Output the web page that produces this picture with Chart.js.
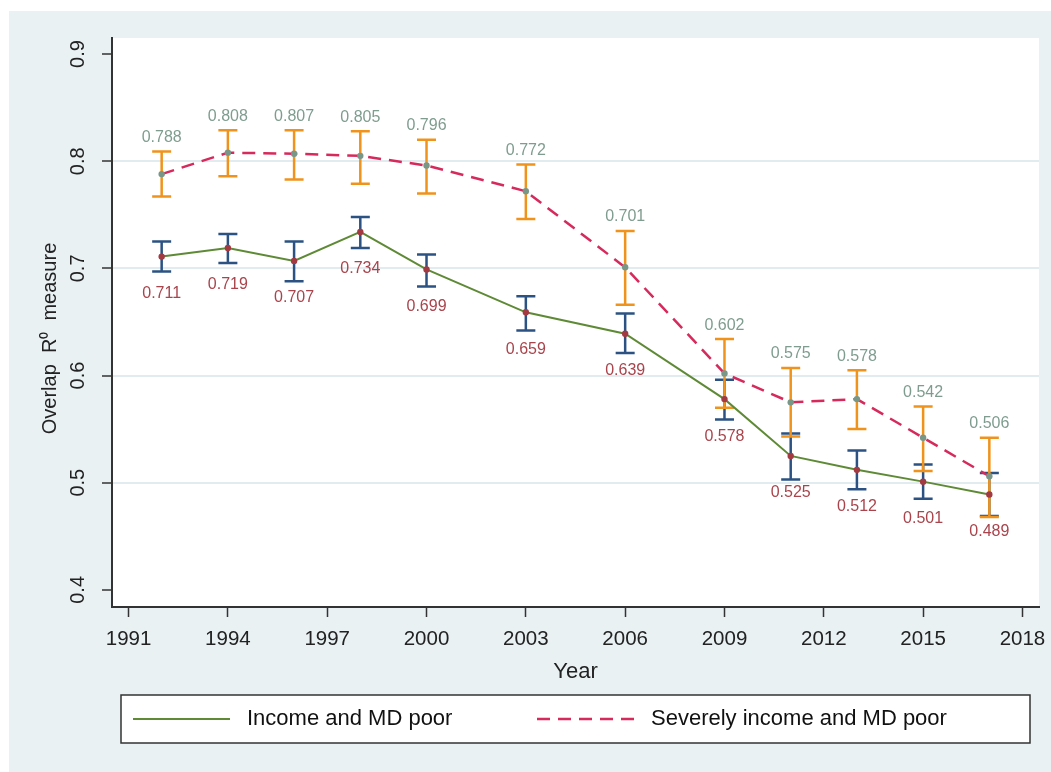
<!DOCTYPE html>
<html>
<head>
<meta charset="utf-8">
<script src="https://cdn.jsdelivr.net/npm/chart.js@4.4.1/dist/chart.umd.min.js"></script>
<style>
  html, body { margin: 0; padding: 0; background: #ffffff; }
  #panel { position: absolute; left: 9px; top: 11px; width: 1042px; height: 761px; background: #e9f1f3; }
  canvas { display: block; }
</style>
</head>
<body>
<div id="panel"><canvas id="overlapChart" width="1042" height="761"></canvas></div>
<script>
// Survey years
const years = [1992, 1994, 1996, 1998, 2000, 2003, 2006, 2009, 2011, 2013, 2015, 2017];

// Income and MD poor: point estimate with 95% confidence bounds
const incomeMD   = [0.711, 0.719, 0.707, 0.734, 0.699, 0.659, 0.639, 0.578, 0.525, 0.512, 0.501, 0.489];
const incomeLow  = [0.697, 0.705, 0.688, 0.719, 0.683, 0.642, 0.621, 0.559, 0.503, 0.494, 0.485, 0.469];
const incomeHigh = [0.725, 0.732, 0.725, 0.748, 0.713, 0.674, 0.658, 0.596, 0.546, 0.530, 0.517, 0.509];

// Severely income and MD poor: point estimate with 95% confidence bounds
const severeMD   = [0.788, 0.808, 0.807, 0.805, 0.796, 0.772, 0.701, 0.602, 0.575, 0.578, 0.542, 0.506];
const severeLow  = [0.767, 0.786, 0.783, 0.779, 0.770, 0.746, 0.666, 0.570, 0.543, 0.550, 0.511, 0.468];
const severeHigh = [0.809, 0.829, 0.829, 0.828, 0.820, 0.797, 0.735, 0.634, 0.607, 0.605, 0.571, 0.542];

// Axis ticks
const xTicks = [1991, 1994, 1997, 2000, 2003, 2006, 2009, 2012, 2015, 2018];
const yTicks = [0.4, 0.5, 0.6, 0.7, 0.8, 0.9];
const yTickLabels = ['0.4', '0.5', '0.6', '0.7', '0.8', '0.9'];

const FONT = '"Liberation Sans", Arial, Helvetica, sans-serif';
const COLORS = {
  incomeLine: '#5e8a36', incomeDot: '#a33a41', incomeLabel: '#a9444c', incomeCI: '#2b5283',
  severeLine: '#d62a5c', severeDot: '#799789', severeLabel: '#7f9d8f', severeCI: '#f0931c',
  axis: '#333333', text: '#222222', grid: '#e2ebef'
};

const toPoints = (vals) => years.map((yr, i) => ({ x: yr, y: vals[i] }));

// Plot background, confidence-interval caps, value labels, rotated y labels and framed legend
const decor = {
  id: 'decor',
  beforeDraw(chart) {
    const { ctx, chartArea: a } = chart;
    ctx.save();
    ctx.fillStyle = '#ffffff';
    ctx.fillRect(a.left, a.top, a.right - a.left, a.bottom - a.top);
    ctx.restore();
  },
  beforeDatasetsDraw(chart) {
    const { ctx } = chart;
    const x = chart.scales.x, y = chart.scales.y;
    const caps = (lo, hi, color) => {
      ctx.save();
      ctx.strokeStyle = color;
      ctx.lineWidth = 2.5;
      years.forEach((yr, i) => {
        const px = x.getPixelForValue(yr);
        const p1 = y.getPixelForValue(lo[i]);
        const p2 = y.getPixelForValue(hi[i]);
        ctx.beginPath();
        ctx.moveTo(px, p1); ctx.lineTo(px, p2);
        ctx.moveTo(px - 9.5, p1); ctx.lineTo(px + 9.5, p1);
        ctx.moveTo(px - 9.5, p2); ctx.lineTo(px + 9.5, p2);
        ctx.stroke();
      });
      ctx.restore();
    };
    caps(incomeLow, incomeHigh, COLORS.incomeCI);
    caps(severeLow, severeHigh, COLORS.severeCI);
  },
  afterDatasetsDraw(chart) {
    const { ctx } = chart;
    const x = chart.scales.x, y = chart.scales.y;
    ctx.save();
    ctx.font = '16px ' + FONT;
    ctx.textAlign = 'center';
    ctx.textBaseline = 'middle';
    years.forEach((yr, i) => {
      const px = x.getPixelForValue(yr);
      ctx.fillStyle = COLORS.incomeLabel;
      ctx.fillText(incomeMD[i].toFixed(3), px, y.getPixelForValue(incomeMD[i]) + 37);
      ctx.fillStyle = COLORS.severeLabel;
      ctx.fillText(severeMD[i].toFixed(3), px, y.getPixelForValue(severeHigh[i]) - 14);
    });
    ctx.restore();
  },
  afterDraw(chart) {
    const { ctx, chartArea: a } = chart;
    const y = chart.scales.y;
    ctx.save();
    ctx.fillStyle = COLORS.text;
    ctx.textAlign = 'center';
    ctx.textBaseline = 'middle';

    // y tick labels, reading bottom to top
    ctx.font = '20px ' + FONT;
    yTicks.forEach((v, i) => {
      ctx.save();
      ctx.translate(69, y.getPixelForValue(v));
      ctx.rotate(-Math.PI / 2);
      ctx.fillText(yTickLabels[i], 0, 0);
      ctx.restore();
    });

    // y axis title
    ctx.font = '20px ' + FONT;
    ctx.save();
    ctx.translate(41, (a.top + a.bottom) / 2 + 16);
    ctx.rotate(-Math.PI / 2);
    ctx.fillText('Overlap  R\u2070  measure', 0, 0);
    ctx.restore();

    // legend frame
    const lx = 112, ly = 684, lw = 909, lh = 48;
    ctx.fillStyle = '#ffffff';
    ctx.fillRect(lx, ly, lw, lh);
    ctx.strokeStyle = COLORS.axis;
    ctx.lineWidth = 1.5;
    ctx.strokeRect(lx, ly, lw, lh);

    const midY = ly + lh / 2;
    const entries = [
      { ds: chart.data.datasets[0], x0: 124, x1: 221, tx: 238 },
      { ds: chart.data.datasets[1], x0: 528, x1: 625, tx: 642 }
    ];
    ctx.font = '22px ' + FONT;
    ctx.textAlign = 'left';
    entries.forEach(e => {
      ctx.save();
      ctx.strokeStyle = e.ds.borderColor;
      ctx.lineWidth = e.ds.borderWidth;
      ctx.setLineDash(e.ds.borderDash || []);
      ctx.beginPath();
      ctx.moveTo(e.x0, midY);
      ctx.lineTo(e.x1, midY);
      ctx.stroke();
      ctx.restore();
      ctx.fillStyle = '#111111';
      ctx.fillText(e.ds.label, e.tx, midY);
    });
    ctx.restore();
  }
};

new Chart(document.getElementById('overlapChart'), {
  type: 'line',
  data: {
    datasets: [
      {
        label: 'Income and MD poor',
        data: toPoints(incomeMD),
        borderColor: COLORS.incomeLine,
        borderWidth: 2,
        pointRadius: 3.2,
        pointBackgroundColor: COLORS.incomeDot,
        pointBorderWidth: 0,
        tension: 0
      },
      {
        label: 'Severely income and MD poor',
        data: toPoints(severeMD),
        borderColor: COLORS.severeLine,
        borderWidth: 2.5,
        borderDash: [13, 8],
        pointRadius: 3.2,
        pointBackgroundColor: COLORS.severeDot,
        pointBorderWidth: 0,
        tension: 0
      }
    ]
  },
  options: {
    responsive: false,
    animation: false,
    devicePixelRatio: 1,
    layout: { padding: { left: 0, top: 27, right: 12, bottom: 87 } },
    plugins: { legend: { display: false }, tooltip: { enabled: false } },
    scales: {
      x: {
        type: 'linear',
        min: 1990.5,
        max: 2018.5,
        afterBuildTicks: (s) => { s.ticks = xTicks.map(v => ({ value: v })); },
        afterFit: (s) => { s.height = 78; s.paddingLeft = 0; s.paddingRight = 0; },
        grid: { drawOnChartArea: false, drawTicks: true, tickLength: 10, tickColor: COLORS.axis, tickWidth: 1.5 },
        border: { display: true, color: COLORS.axis, width: 2 },
        ticks: {
          autoSkip: false, minRotation: 0, maxRotation: 0, padding: 10,
          color: COLORS.text, font: { family: FONT, size: 20.5 },
          callback: (v) => String(v)
        },
        title: {
          display: true, text: 'Year', color: COLORS.text,
          font: { family: FONT, size: 22 }, padding: { top: 0, bottom: 0 }
        }
      },
      y: {
        type: 'linear',
        min: 0.384,
        max: 0.915,
        afterBuildTicks: (s) => { s.ticks = yTicks.map(v => ({ value: v })); },
        afterFit: (s) => { s.width = 103; s.paddingTop = 0; s.paddingBottom = 0; },
        grid: {
          color: (c) => (c.tick && c.tick.value > 0.45 && c.tick.value < 0.85) ? COLORS.grid : 'rgba(0,0,0,0)',
          lineWidth: 2, drawTicks: true, tickLength: 10, tickColor: COLORS.axis, tickWidth: 1.5
        },
        border: { display: true, color: COLORS.axis, width: 2 },
        ticks: { display: false }
      }
    }
  },
  plugins: [decor]
});
</script>
</body>
</html>
